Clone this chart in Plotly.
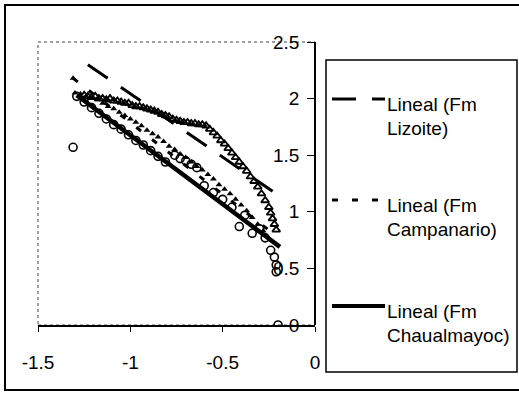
import plotly.graph_objects as go

# ---- data -------------------------------------------------------------
# Fm Lizoite (open triangles)
liz_x = [-1.25, -1.23, -1.21, -1.19, -1.17, -1.15, -1.13, -1.11, -1.09, -1.07,
         -1.05, -1.03, -1.01, -0.99, -0.97, -0.95, -0.93, -0.91, -0.89, -0.87,
         -0.85, -0.83, -0.81, -0.79, -0.77, -0.75, -0.73, -0.71, -0.69, -0.67,
         -0.65, -0.63, -0.61, -0.59, -0.57, -0.55, -0.53, -0.51, -0.49, -0.47,
         -0.45, -0.43, -0.41, -0.39, -0.37, -0.35, -0.33, -0.31, -0.29, -0.27,
         -0.25, -0.24, -0.23, -0.22, -0.21]
liz_y = [2.03, 2.02, 2.01, 2.02, 2.00, 2.00, 1.99, 2.00, 1.98, 1.98,
         1.97, 1.96, 1.96, 1.94, 1.93, 1.93, 1.92, 1.91, 1.90, 1.89,
         1.88, 1.86, 1.85, 1.84, 1.82, 1.81, 1.80, 1.79, 1.79, 1.78,
         1.78, 1.77, 1.77, 1.76, 1.73, 1.70, 1.67, 1.63, 1.60, 1.56,
         1.52, 1.48, 1.44, 1.40, 1.36, 1.31, 1.27, 1.22, 1.16, 1.10,
         1.04, 0.99, 0.94, 0.89, 0.84]

# Fm Campanario (small filled triangles)
cam_x = [-1.31, -1.30, -1.27, -1.24, -1.21, -1.18, -1.15, -1.12, -1.09, -1.06,
         -1.03, -1.00, -0.97, -0.94, -0.91, -0.88, -0.85, -0.82, -0.79, -0.76,
         -0.73, -0.70, -0.67, -0.64, -0.61, -0.58, -0.55, -0.52, -0.49, -0.46,
         -0.43, -0.40, -0.37, -0.34, -0.31, -0.28]
cam_y = [2.18, 2.05, 2.04, 2.02, 2.00, 1.99, 1.96, 1.93, 1.91, 1.88,
         1.85, 1.82, 1.79, 1.76, 1.72, 1.69, 1.66, 1.62, 1.58, 1.55,
         1.51, 1.48, 1.44, 1.40, 1.37, 1.33, 1.29, 1.24, 1.20, 1.16,
         1.11, 1.06, 1.01, 0.95, 0.89, 0.83]

# Fm Chaualmayoc (open circles)
cha_x = [-1.31, -1.29, -1.25, -1.21, -1.17, -1.13, -1.09, -1.05, -1.01, -0.97,
         -0.93, -0.89, -0.85, -0.81, -0.76, -0.73, -0.70, -0.67, -0.64, -0.60,
         -0.55, -0.50, -0.45, -0.41, -0.38, -0.34, -0.30, -0.27, -0.24, -0.22,
         -0.21, -0.21, -0.20]
cha_y = [1.57, 2.02, 1.97, 1.92, 1.87, 1.82, 1.77, 1.73, 1.68, 1.63,
         1.59, 1.54, 1.49, 1.44, 1.50, 1.47, 1.45, 1.42, 1.39, 1.23,
         1.17, 1.11, 1.04, 0.87, 0.97, 0.81, 0.85, 0.77, 0.66, 0.60,
         0.53, 0.47, 0.00]

# Linear trendlines (start / end)
trend_liz_x = [-1.23, -0.22]
trend_liz_y = [2.30, 1.17]
trend_cam_x = [-1.31, -0.22]
trend_cam_y = [2.18, 0.80]
trend_cha_x = [-1.29, -0.19]
trend_cha_y = [2.03, 0.69]

legend_labels = [("Lineal (Fm", "Lizoite)"),
                 ("Lineal (Fm", "Campanario)"),
                 ("Lineal (Fm", "Chaualmayoc)")]

x_ticks = [-1.5, -1, -0.5, 0]
x_ticktext = ["-1.5", "-1", "-0.5", "0"]
y_ticks = [0, 0.5, 1, 1.5, 2, 2.5]
y_ticktext = ["0", "0.5", "1", "1.5", "2", "2.5"]

# ---- figure -----------------------------------------------------------
W, H = 519, 396
L, R, T, B = 38, 204, 42, 71
FONT = "Liberation Sans, Arial, sans-serif"


def px_x(p):
    return (p - L) / (W - L - R)


def px_y(p):
    return (H - B - p) / (H - T - B)


fig = go.Figure()

fig.add_trace(go.Scatter(x=liz_x, y=liz_y, mode="markers",
                         marker=dict(symbol="triangle-up-open", size=7, color="black",
                                     line=dict(width=1.8, color="black"))))
fig.add_trace(go.Scatter(x=cam_x, y=cam_y, mode="markers",
                         marker=dict(symbol="triangle-up", size=6, color="black")))
fig.add_trace(go.Scatter(x=cha_x, y=cha_y, mode="markers",
                         marker=dict(symbol="circle-open", size=8, color="black",
                                     line=dict(width=1.6, color="black"))))

fig.add_trace(go.Scatter(x=trend_liz_x, y=trend_liz_y, mode="lines",
                         line=dict(color="black", width=3, dash="24px,16px")))
fig.add_trace(go.Scatter(x=trend_cam_x, y=trend_cam_y, mode="lines",
                         line=dict(color="black", width=3, dash="6px,14px")))
fig.add_trace(go.Scatter(x=trend_cha_x, y=trend_cha_y, mode="lines",
                         line=dict(color="black", width=4.5)))

shapes = []
# dotted plot-area frame (left / top)
shapes.append(dict(type="rect", xref="paper", yref="paper", x0=0, x1=1, y0=0, y1=1,
                   line=dict(color="#444", width=1, dash="dot"), layer="below"))
# outer chart border
shapes.append(dict(type="rect", xref="paper", yref="paper",
                   x0=px_x(5), x1=px_x(524), y0=px_y(390), y1=px_y(5),
                   line=dict(color="black", width=2)))
# legend box
shapes.append(dict(type="rect", xref="paper", yref="paper",
                   x0=px_x(326), x1=px_x(517), y0=px_y(372), y1=px_y(60),
                   line=dict(color="black", width=1.5)))

annotations = []
sym_y = [99, 200, 306]
dashes = ["24px,16px", "6px,14px", "solid"]
widths = [3, 3, 4]
for i, (l1, l2) in enumerate(legend_labels):
    yy = sym_y[i]
    shapes.append(dict(type="line", xref="paper", yref="paper",
                       x0=px_x(332), x1=px_x(385), y0=px_y(yy), y1=px_y(yy),
                       line=dict(color="black", width=widths[i], dash=dashes[i])))
    for j, txt in enumerate((l1, l2)):
        annotations.append(dict(xref="paper", yref="paper", x=px_x(385),
                                y=px_y(yy + 5 + 24 * j), text=txt, showarrow=False,
                                xanchor="left", yanchor="middle",
                                font=dict(family=FONT, size=19, color="black")))

fig.update_layout(
    width=W, height=H,
    margin=dict(l=L, r=R, t=T, b=B, pad=0),
    paper_bgcolor="white", plot_bgcolor="white",
    showlegend=False,
    shapes=shapes, annotations=annotations,
    font=dict(family=FONT, size=19, color="black"),
    xaxis=dict(range=[-1.5, 0], tickvals=x_ticks, ticktext=x_ticktext,
               showgrid=False, zeroline=False, showline=True, linecolor="black",
               linewidth=1.5, ticks="outside", ticklen=5, tickwidth=1.2,
               tickcolor="black", ticklabelstandoff=14),
    # y axis sits at x = 0 (right edge) with its labels on the plot side
    yaxis=dict(range=[0, 2.5], tickvals=y_ticks, ticktext=y_ticktext,
               anchor="free", position=1, side="left",
               showgrid=False, zeroline=False, showline=True, linecolor="black",
               linewidth=1.5, ticks="outside", ticklen=7, tickwidth=1.2,
               tickcolor="black", ticklabelstandoff=4),
)

fig.write_html("out.html")
